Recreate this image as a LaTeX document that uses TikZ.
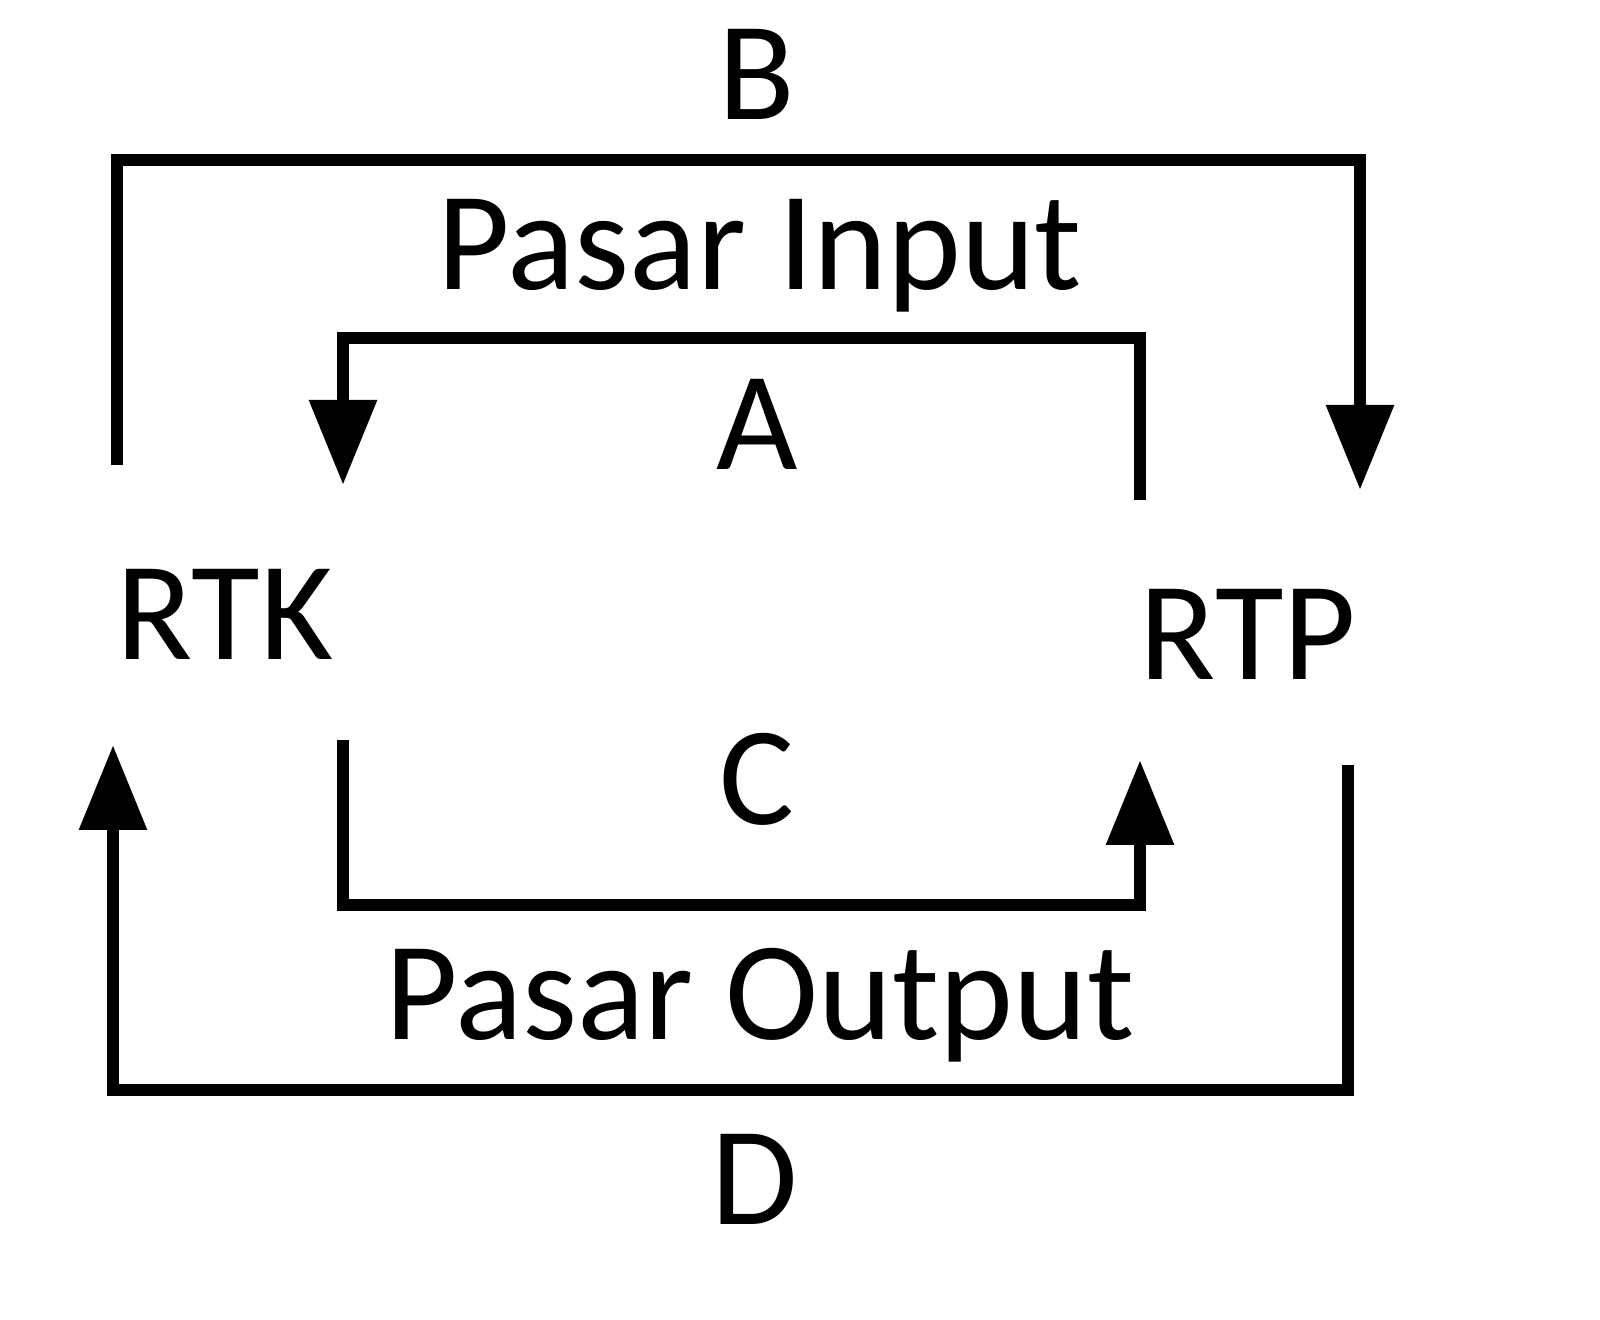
\documentclass[tikz,border=0pt]{standalone}
\usepackage{fontspec}
\setmainfont{Carlito}
\usetikzlibrary{arrows.meta}

\begin{document}
\begin{tikzpicture}[line width = 3.6pt, > = {Triangle[width=0.65cm,length=0.85cm]},
  lbl/.style = {anchor = base, inner sep = 0pt, font = \fontsize{40}{44}\selectfont}]
\useasboundingbox (0,0) rectangle (16,13.2);
\node (b) at (7.57,12.0) [lbl] {B};
\node (inp) at (7.6,10.3) [lbl] {Pasar Input};
\node (a) at (7.57,8.5) [lbl] {A};
\node (rtk) at (2.25,6.6) [lbl] {RTK};
\node (rtp) at (12.48,6.4) [lbl] {RTP};
\node (c) at (7.57,4.95) [lbl] {C};
\node (outp) at (7.6,2.8) [lbl] {Pasar Output};
\node (d) at (7.55,0.95) [lbl] {D};
% ujung-ujung garis
\coordinate (bs) at (1.17,8.55);
\coordinate (be) at (13.6,8.3);
\coordinate (as) at (11.4,8.2);
\coordinate (ae) at (3.43,8.35);
\coordinate (cs) at (3.43,5.8);
\coordinate (ce) at (11.4,5.6);
\coordinate (ds) at (13.48,5.55);
\coordinate (de) at (1.13,5.75);
\draw [->] (bs) -- (1.17,11.6) -| (be);
\draw [->] (as) -- (11.4,9.82) -| (ae);
\draw [->] (cs) -- (3.43,4.15) -| (ce);
\draw [->] (ds) -- (13.48,2.3) -| (de);
\end{tikzpicture}
\end{document}
